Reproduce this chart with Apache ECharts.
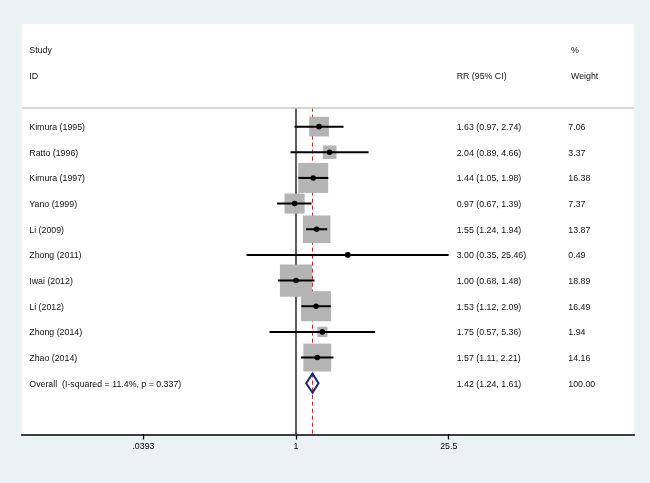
<!DOCTYPE html>
<html>
<head>
<meta charset="utf-8">
<script src="https://cdn.jsdelivr.net/npm/echarts@6/dist/echarts.min.js"></script>
<style>
  html, body { margin: 0; padding: 0; background: #eaf2f3; }
  #chart { width: 650px; height: 483px; }
</style>
</head>
<body>
<div id="chart"></div>
<script>
// study rows, top to bottom
const studies = ['Kimura (1995)', 'Ratto (1996)', 'Kimura (1997)', 'Yano (1999)', 'Li (2009)',
  'Zhong (2011)', 'Iwai (2012)', 'Li (2012)', 'Zhong (2014)', 'Zhao (2014)']
const rr = [1.63, 2.04, 1.44, 0.97, 1.55, 3.00, 1.00, 1.53, 1.75, 1.57]
const lower = [0.97, 0.89, 1.05, 0.67, 1.24, 0.35, 0.68, 1.12, 0.57, 1.11]
const upper = [2.74, 4.66, 1.98, 1.39, 1.94, 25.46, 1.48, 2.09, 5.36, 2.21]
const weights = [7.06, 3.37, 16.38, 7.37, 13.87, 0.49, 18.89, 16.49, 1.94, 14.16]

// pooled estimate
const overallLabel = 'Overall  (I-squared = 11.4%, p = 0.337)'
const overall = [1.42, 1.24, 1.61]
const overallWeight = 100

// x axis ticks
const tickValues = [0.0393, 1, 25.5]
const tickLabels = ['.0393', '1', '25.5']

const headerRows = [
  ['Study', '', '%'],
  ['ID', 'RR (95% CI)', 'Weight']
]

const fmt = v => v.toFixed(2)
const font = '8.8px "Liberation Sans", Arial, sans-serif'

// rows: header at -3/-2, studies 0..9, overall 10
const tableRows = []
headerRows.forEach((cells, i) => tableRows.push({ row: i - 3, cells }))
studies.forEach((s, i) => tableRows.push({
  row: i,
  cells: [s, fmt(rr[i]) + ' (' + fmt(lower[i]) + ', ' + fmt(upper[i]) + ')', fmt(weights[i])]
}))
tableRows.push({
  row: studies.length,
  cells: [overallLabel, fmt(overall[0]) + ' (' + fmt(overall[1]) + ', ' + fmt(overall[2]) + ')', fmt(overallWeight)]
})

const chart = echarts.init(document.getElementById('chart'))

const xMin = 0.002973
const xMax = 1306
const headerRule = -0.74

chart.setOption({
  backgroundColor: '#eaf2f3',
  animation: false,
  grid: {
    left: 21.7, right: 15.7, top: 24, bottom: 48.5,
    show: true, backgroundColor: '#fff', borderWidth: 0
  },
  xAxis: {
    type: 'log',
    logBase: 10,
    min: xMin,
    max: xMax,
    axisLine: { onZero: false, lineStyle: { color: '#000', width: 1.5 } },
    axisTick: { customValues: tickValues, length: 5, lineStyle: { color: '#000', width: 1.3 } },
    axisLabel: {
      customValues: tickValues,
      margin: 8,
      color: '#000',
      fontSize: 8.8,
      fontFamily: '"Liberation Sans", Arial, sans-serif',
      formatter: v => {
        const i = tickValues.findIndex(t => Math.abs(t - v) / t < 1e-3)
        return i >= 0 ? tickLabels[i] : ''
      }
    },
    splitLine: { show: false },
    minorTick: { show: false }
  },
  yAxis: {
    type: 'value',
    inverse: true,
    min: -4,
    max: 12,
    show: false
  },
  series: [
    {
      // reference lines, kept under the boxes
      type: 'line',
      data: [],
      z: 1,
      markLine: {
        z: 1,
        silent: true,
        symbol: 'none',
        label: { show: false },
        data: [
          [{ coord: [1, headerRule], lineStyle: { color: '#4d4d4d', width: 1.8, type: 'solid' } }, { coord: [1, 12] }],
          [{ coord: [overall[0], headerRule], lineStyle: { color: '#c0282d', width: 1, type: [4, 3] } }, { coord: [overall[0], 12] }],
          { yAxis: headerRule, lineStyle: { color: '#c8c8c8', width: 1.5, type: 'solid' } }
        ]
      }
    },
    {
      // study boxes, CIs and point estimates
      type: 'custom',
      z: 3,
      data: studies.map((s, i) => [rr[i], i, lower[i], upper[i], weights[i]]),
      encode: { x: 0, y: 1 },
      renderItem: (params, api) => {
        const row = api.value(1)
        const c = api.coord([api.value(0), row])
        const a = api.coord([api.value(2), row])
        const b = api.coord([api.value(3), row])
        const side = 7.4 * Math.sqrt(api.value(4))
        return {
          type: 'group',
          children: [
            { type: 'rect', shape: { x: c[0] - side / 2, y: c[1] - side / 2, width: side, height: side },
              style: { fill: '#b4b4b4' } },
            { type: 'line', shape: { x1: a[0], y1: a[1], x2: b[0], y2: b[1] },
              style: { stroke: '#000', lineWidth: 2 } },
            { type: 'circle', shape: { cx: c[0], cy: c[1], r: 2.8 }, style: { fill: '#000' } }
          ]
        }
      }
    },
    {
      // pooled diamond (outline only, dashed line shows through)
      type: 'custom',
      z: 4,
      data: [[overall[0], studies.length, overall[1], overall[2]]],
      encode: { x: 0, y: 1 },
      renderItem: (params, api) => {
        const row = api.value(1)
        const c = api.coord([api.value(0), row])
        const a = api.coord([api.value(2), row])
        const b = api.coord([api.value(3), row])
        const h = 9.5
        return {
          type: 'polygon',
          shape: { points: [[a[0], a[1]], [c[0], c[1] - h], [b[0], b[1]], [c[0], c[1] + h]] },
          style: { fill: 'none', stroke: '#1a237e', lineWidth: 2 }
        }
      }
    },
    {
      // text columns
      type: 'custom',
      z: 5,
      data: tableRows.map(r => [1, r.row]),
      encode: { x: 0, y: 1 },
      renderItem: (params, api) => {
        const r = tableRows[params.dataIndex]
        const y = api.coord([1, api.value(1)])[1] + 1
        const x0 = params.coordSys.x
        const header = r.row < 0
        const offsets = [7.6, 435, header ? 549.3 : 546.6]
        return {
          type: 'group',
          children: r.cells.map((t, k) => ({
            type: 'text',
            style: { x: x0 + offsets[k], y, text: t, fill: '#111', font, align: 'left', verticalAlign: 'middle' }
          }))
        }
      }
    }
  ]
})

window.addEventListener('resize', chart.resize)
</script>
</body>
</html>
